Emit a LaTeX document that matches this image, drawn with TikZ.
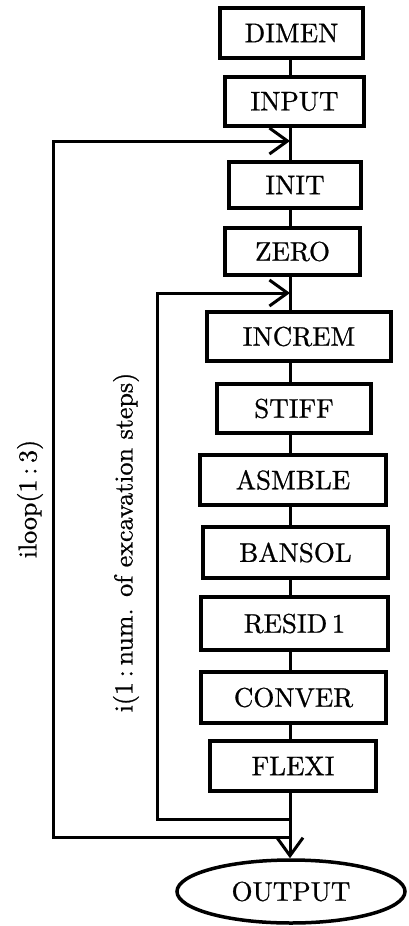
\documentclass[tikz,border=0pt]{standalone}
\usepackage{fontspec}
\newfontfamily\heavyrm{lmroman10-regular.otf}[FakeBold=0.8]
\usetikzlibrary{arrows.meta,shapes.geometric}
\tikzset{
  proc/.style={draw, line width=3.5pt, inner sep=0pt, align=center,
    font=\heavyrm\fontsize{27}{32}\selectfont},
  term/.style={draw, ellipse, line width=3.5pt, inner sep=0pt,
    font=\heavyrm\fontsize{27}{32}\selectfont},
  flow/.style={line width=3pt},
  loop/.style={line width=3pt, -{Straight Barb[length=18pt,width=26pt,line width=3pt]}},
  looplabel/.style={rotate=90, font=\heavyrm\fontsize{26}{30}\selectfont, inner sep=0pt}
}
\newcommand{\colsp}{\kern0.18em:\kern0.18em}
\begin{document}
\begin{tikzpicture}[x=1pt,y=-1pt]
\useasboundingbox (0,0) rectangle (408,926);
% boxes: center (x,y), width, height (line centres)
\node[proc, minimum width=143pt, minimum height=50pt] (dimen)  at (291.5,33)  {DIMEN};
\node[proc, minimum width=139pt, minimum height=49pt] (input)  at (294.5,101.5) {INPUT};
\node[proc, minimum width=132pt, minimum height=46pt] (init)   at (295,185)   {INIT};
\node[proc, minimum width=135pt, minimum height=47pt] (zero)   at (292.5,251.5) {ZERO};
\node[proc, minimum width=184pt, minimum height=49pt] (increm) at (299,336.5) {INCREM};
\node[proc, minimum width=154pt, minimum height=49pt] (stiff)  at (294,408.5) {STIFF};
\node[proc, minimum width=186pt, minimum height=50pt] (asmble) at (293,480)   {ASMBLE};
\node[proc, minimum width=185pt, minimum height=51pt] (bansol) at (295.5,552.5) {BANSOL};
\node[proc, minimum width=187pt, minimum height=53pt] (resid)  at (294.5,623.5) {RESID\,1};
\node[proc, minimum width=185pt, minimum height=51pt] (conver) at (293.5,697.5) {CONVER};
\node[proc, minimum width=166pt, minimum height=50pt] (flexi)  at (293,766)   {FLEXI};
\node[term, minimum width=228pt, minimum height=63pt] (output) at (291,891.5) {OUTPUT};
% spine and loop corners
\coordinate (spine) at (290,0);
\coordinate (oin)  at (290,141);
\coordinate (iin)  at (290,293);
\coordinate (oout) at (290,837);
\coordinate (iout) at (290,819);
\coordinate (oleft) at (53,0);
\coordinate (ileft) at (157,0);
% vertical flow
\draw[flow] (dimen.south -| spine) -- (input.north -| spine);
\draw[flow] (input.south -| spine) -- (init.north -| spine);
\draw[flow] (init.south -| spine) -- (zero.north -| spine);
\draw[flow] (zero.south -| spine) -- (increm.north -| spine);
\draw[flow] (increm.south -| spine) -- (stiff.north -| spine);
\draw[flow] (stiff.south -| spine) -- (asmble.north -| spine);
\draw[flow] (asmble.south -| spine) -- (bansol.north -| spine);
\draw[flow] (bansol.south -| spine) -- (resid.north -| spine);
\draw[flow] (resid.south -| spine) -- (conver.north -| spine);
\draw[flow] (conver.south -| spine) -- (flexi.north -| spine);
\draw[loop] (flexi.south -| spine) -- (output.north -| spine);
% loops
\draw[loop] (oout) -- (oout -| oleft) -- (oin -| oleft) -- (oin);
\draw[loop] (iout) -- (iout -| ileft) -- (iin -| ileft) -- (iin);
% labels
\node[looplabel] (ilab) at (30,499) {iloop(1\colsp 3)};
\node[looplabel] (jlab) at (126,542.5) {i(1\colsp num. of excavation steps)};
\end{tikzpicture}
\end{document}
